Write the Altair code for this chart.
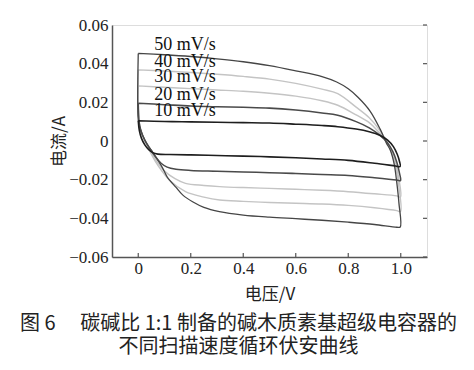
import altair as alt
import pandas as pd

# ---- data (voltage V, current A), loop order ----
rates = ["40 mV/s", "30 mV/s", "50 mV/s", "20 mV/s", "10 mV/s"]

v10 = [0.0, 0.1, 0.2, 0.3, 0.4, 0.5, 0.6, 0.7, 0.76, 0.83, 0.88, 0.92, 0.95, 0.972, 0.987, 0.995, 0.998,
       0.98, 0.9, 0.8, 0.7, 0.6, 0.5, 0.4, 0.3, 0.2, 0.12, 0.075, 0.055, 0.04, 0.025, 0.012, 0.004, 0.0]
i10 = [0.0105, 0.0101, 0.0099, 0.0097, 0.0095, 0.0093, 0.0087, 0.0080, 0.0074, 0.0062, 0.0048, 0.0030, 0.0005, -0.0029, -0.0070, -0.0105, -0.0132,
       -0.0129, -0.0115, -0.0100, -0.0093, -0.0087, -0.0082, -0.0078, -0.0075, -0.0072, -0.0070, -0.0068, -0.0060, -0.0045, -0.0020, 0.0015, 0.0055, 0.0105]

v20 = [0.0, 0.1, 0.2, 0.3, 0.4, 0.5, 0.6, 0.7, 0.76, 0.83, 0.88, 0.92, 0.95, 0.97, 0.985, 0.995, 0.999,
       0.985, 0.9, 0.8, 0.7, 0.6, 0.5, 0.4, 0.3, 0.2, 0.144, 0.11, 0.087, 0.065, 0.045, 0.025, 0.01, 0.003, 0.0]
i20 = [0.0195, 0.0188, 0.0181, 0.0177, 0.0174, 0.0170, 0.0160, 0.0145, 0.0133, 0.0100, 0.0068, 0.0030, -0.0010, -0.0055, -0.0110, -0.0165, -0.0205,
       -0.0202, -0.0190, -0.0178, -0.0173, -0.0168, -0.0164, -0.0160, -0.0156, -0.0152, -0.0146, -0.0135, -0.0115, -0.0080, -0.0040, 0.0005, 0.0055, 0.0100, 0.0195]

v30 = [0.0, 0.1, 0.2, 0.3, 0.4, 0.5, 0.6, 0.7, 0.76, 0.83, 0.88, 0.92, 0.945, 0.965, 0.98, 0.992, 0.999,
       0.985, 0.9, 0.8, 0.7, 0.6, 0.5, 0.4, 0.31, 0.25, 0.18, 0.14, 0.1, 0.07, 0.045, 0.025, 0.01, 0.003, 0.0]
i30 = [0.0285, 0.0278, 0.0271, 0.0264, 0.0257, 0.0247, 0.0232, 0.0208, 0.0185, 0.0135, 0.0095, 0.0040, 0.0, -0.0050, -0.0110, -0.0190, -0.0290,
       -0.0284, -0.0273, -0.0262, -0.0255, -0.0250, -0.0245, -0.0241, -0.0236, -0.0230, -0.0219, -0.0195, -0.0155, -0.0105, -0.0050, 0.0, 0.0050, 0.0100, 0.0285]

v40 = [0.0, 0.1, 0.2, 0.3, 0.4, 0.5, 0.6, 0.7, 0.76, 0.83, 0.88, 0.92, 0.945, 0.965, 0.98, 0.992, 0.999,
       0.985, 0.9, 0.8, 0.7, 0.6, 0.5, 0.4, 0.31, 0.25, 0.18, 0.118, 0.09, 0.065, 0.045, 0.025, 0.01, 0.003, 0.0]
i40 = [0.0368, 0.0362, 0.0354, 0.0345, 0.0334, 0.0320, 0.0298, 0.0268, 0.0245, 0.0175, 0.0120, 0.0055, 0.0, -0.0060, -0.0130, -0.0230, -0.0365,
       -0.0360, -0.0345, -0.0333, -0.0326, -0.0322, -0.0318, -0.0312, -0.0305, -0.0290, -0.0262, -0.0202, -0.0155, -0.0105, -0.0055, 0.0, 0.0050, 0.0100, 0.0368]

v50 = [0.0, 0.1, 0.2, 0.3, 0.4, 0.5, 0.6, 0.7, 0.756, 0.8, 0.838, 0.883, 0.922, 0.945, 0.96, 0.975, 0.985, 0.993, 0.998,
       0.985, 0.9, 0.8, 0.7, 0.6, 0.5, 0.4, 0.309, 0.25, 0.207, 0.17, 0.144, 0.11, 0.093, 0.075, 0.056, 0.035, 0.018, 0.006, 0.0, 0.0]
i50 = [0.0453, 0.0446, 0.0437, 0.0425, 0.0410, 0.0390, 0.0363, 0.0333, 0.0305, 0.0270, 0.0225, 0.0155, 0.0060, -0.0010, -0.0047, -0.0120, -0.0217, -0.0320, -0.0445,
       -0.0446, -0.0432, -0.0420, -0.0410, -0.0402, -0.0394, -0.0383, -0.0365, -0.0343, -0.0314, -0.0280, -0.0240, -0.0185, -0.0140, -0.0100, -0.0060, -0.0020, 0.0025, 0.0070, 0.0110, 0.0453]

curves = {"10 mV/s": (v10, i10), "20 mV/s": (v20, i20), "30 mV/s": (v30, i30),
          "40 mV/s": (v40, i40), "50 mV/s": (v50, i50)}

label_text = ["50 mV/s", "40 mV/s", "30 mV/s", "20 mV/s", "10 mV/s"]
label_v = [0.061, 0.061, 0.061, 0.061, 0.061]
label_i = [0.0496, 0.0410, 0.0332, 0.0238, 0.0155]

x_ticks = [0.0, 0.2, 0.4, 0.6, 0.8, 1.0]
y_ticks = [-0.06, -0.04, -0.02, 0.0, 0.02, 0.04, 0.06]

caption = ["图 6\u3000 碳碱比 1:1 制备的碱木质素基超级电容器的", "不同扫描速度循环伏安曲线"]

# ---- build tables ----
rows = []
for r in rates:
    vs, cs = curves[r]
    for k, (v, c) in enumerate(zip(vs, cs)):
        rows.append({"rate": r, "idx": k, "v": v, "i": c})
df = pd.DataFrame(rows)
labels = pd.DataFrame({"t": label_text, "v": label_v, "i": label_i})
xt = pd.DataFrame({"v": x_ticks})
yt = pd.DataFrame({"i": y_ticks})

W, H = 315, 232
xs = alt.Scale(domain=[-0.1, 1.1], nice=False, zero=False)
ys = alt.Scale(domain=[-0.06, 0.06], nice=False, zero=False)
AX = "#555555"
SERIF = "Liberation Serif"
CJK = "Noto Sans CJK SC"

xaxis = alt.Axis(
    values=x_ticks, title="电压/V", ticks=False, grid=False, labelOverlap=False,
    labelExpr="datum.value == 0 ? '0' : format(datum.value, '.1f')",
    labelFont=SERIF, labelFontSize=17, labelColor="#222", labelPadding=3,
    domainColor=AX, domainWidth=1.5,
    titleFont=CJK, titleFontSize=17, titleFontWeight="normal", titleColor="#222", titlePadding=10)
yaxis = alt.Axis(
    values=y_ticks, title="电流/A", ticks=False, grid=False, labelOverlap=False,
    labelBound=False, labelFlush=False,
    labelExpr="datum.value == 0 ? '0' : format(datum.value, '.2f')",
    labelFont=SERIF, labelFontSize=17, labelColor="#222", labelPadding=4,
    domainColor=AX, domainWidth=1.5,
    titleFont=CJK, titleFontSize=17, titleFontWeight="normal", titleColor="#222", titlePadding=0)

lines = alt.Chart(df).mark_line(interpolate="catmull-rom").encode(
    x=alt.X("v:Q", scale=xs, axis=xaxis),
    y=alt.Y("i:Q", scale=ys, axis=yaxis),
    color=alt.Color("rate:N", legend=None, scale=alt.Scale(
        domain=["10 mV/s", "20 mV/s", "30 mV/s", "40 mV/s", "50 mV/s"],
        range=["#1e1e1e", "#4a4a4a", "#c4c4c4", "#c4c4c4", "#454545"])),
    strokeWidth=alt.StrokeWidth("rate:N", legend=None, scale=alt.Scale(
        domain=["10 mV/s", "20 mV/s", "30 mV/s", "40 mV/s", "50 mV/s"],
        range=[1.6, 1.3, 1.3, 1.3, 1.3])),
    detail="rate:N",
    order=alt.Order("idx:Q"),
)

texts = alt.Chart(labels).mark_text(
    align="left", baseline="middle", font=SERIF, fontSize=18, color="#111"
).encode(x=alt.X("v:Q", scale=xs, axis=xaxis), y=alt.Y("i:Q", scale=ys, axis=yaxis), text="t:N")

bottom_ticks = alt.Chart(xt).mark_rule(color=AX, strokeWidth=1.2).encode(
    x=alt.X("v:Q", scale=xs, axis=xaxis), y=alt.value(H), y2=alt.value(H - 4))
right_ticks = alt.Chart(yt).mark_rule(color=AX, strokeWidth=1.2).encode(
    y=alt.Y("i:Q", scale=ys, axis=yaxis), x=alt.value(W), x2=alt.value(W - 4))

chart = alt.layer(lines, texts, bottom_ticks, right_ticks).properties(
    width=W, height=H,
    autosize=alt.AutoSizeParams(type="none"),
    padding={"left": 104, "top": 17, "right": 39, "bottom": 105},
    title=alt.TitleParams(text=caption, orient="bottom", anchor="middle",
                          font=CJK, fontSize=20, fontWeight="normal", color="#222",
                          lineHeight=23, dx=-31, offset=12),
).configure_view(stroke=AX, strokeWidth=1.5).configure(background="white")

chart.save("out.html", embed_options={"renderer": "svg", "actions": False})
